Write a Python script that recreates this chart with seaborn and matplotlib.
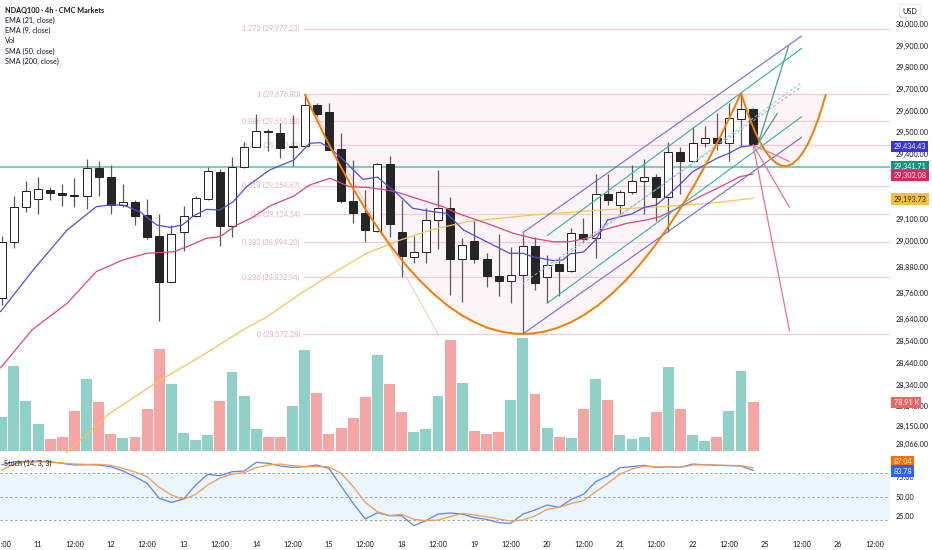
import numpy as np
import pandas as pd
import seaborn as sns
import matplotlib.pyplot as plt
from matplotlib.path import Path
from matplotlib.patches import PathPatch

# 4h candles, bar 0 = 10th 12:00 ... bar 62 = 22nd 20:00
opens = [28737, 28997, 29155, 29192, 29235, 29219, 29212, 29207, 29335, 29296,
         29166, 29181, 29120, 29025, 28813, 29040, 29117, 29194, 29319, 29069,
         29340, 29434, 29504, 29499, 29432, 29438, 29626, 29593, 29422, 29184,
         29131, 29048, 29355, 29040, 28928, 28948, 29097, 29154, 28916, 29000,
         28918, 28841, 28818, 28844, 28979, 28836, 28893, 28862, 29033, 29013,
         29217, 29166, 29227, 29278, 29294, 29201, 29409, 29370, 29453, 29473,
         29453, 29560, 29606]
highs = [29023, 29207, 29278, 29296, 29250, 29261, 29292, 29376, 29369, 29350,
         29261, 29189, 29192, 29123, 29074, 29161, 29207, 29342, 29330, 29388,
         29457, 29585, 29514, 29542, 29580, 29677, 29634, 29637, 29499, 29373,
         29235, 29359, 29393, 29189, 29025, 29154, 29327, 29204, 29016, 29097,
         28944, 29033, 28974, 29039, 29020, 28936, 28928, 29059, 29105, 29307,
         29309, 29235, 29350, 29378, 29309, 29457, 29434, 29524, 29531, 29591,
         29637, 29681, 29611]
lows = [28706, 28968, 29132, 29125, 29189, 29161, 29158, 29146, 29207, 29125,
        29158, 29074, 29008, 28634, 28810, 28956, 29112, 29189, 28977, 29020,
        29335, 29432, 29415, 29381, 29346, 29434, 29576, 29417, 29175, 29085,
        28997, 29042, 29020, 28836, 28900, 28900, 28962, 28752, 28721, 28900,
        28790, 28747, 28714, 28572, 28775, 28714, 28749, 28858, 28990, 28921,
        29166, 29123, 29217, 29123, 29092, 29040, 29217, 29369, 29432, 29419,
        29370, 29434, 29442]
closes = [28997, 29155, 29230, 29238, 29220, 29214, 29208, 29335, 29294, 29166,
          29178, 29115, 29020, 28813, 29033, 29117, 29197, 29323, 29069, 29342,
          29432, 29505, 29500, 29430, 29436, 29626, 29585, 29419, 29184, 29128,
          29051, 29355, 29077, 28931, 28951, 29097, 29151, 28916, 28982, 28918,
          28841, 28818, 28844, 28979, 28806, 28890, 28862, 29036, 29010, 29215,
          29189, 29227, 29278, 29294, 29204, 29411, 29370, 29453, 29473, 29453,
          29565, 29606, 29447]
volumes = [54.1, 137.2, 80.5, 43.3, 19.0, 21.7, 63.8, 115.7, 79.4, 27.5,
           21.1, 22.7, 68.0, 165.2, 108.1, 28.7, 17.8, 24.9, 80.5, 128.0,
           89.1, 35.6, 22.7, 21.7, 72.4, 163.1, 93.5, 27.5, 36.8, 52.5,
           87.0, 155.5, 108.1, 63.2, 30.8, 35.2, 88.6, 179.8, 109.2, 32.4,
           27.1, 30.8, 82.6, 182.1, 91.4, 36.3, 22.7, 20.1, 67.6, 116.2,
           82.1, 25.4, 19.0, 22.7, 63.2, 135.1, 67.6, 24.9, 15.2, 22.7,
           64.3, 129.6, 78.91]

# moving averages (bar position, price)
ema9_x = [-0.1, 2.6, 5.4, 7.8, 8.9, 10.0, 11.4, 12.8, 13.9, 14.9, 15.8, 16.9, 18.0,
          19.1, 20.2, 22.1, 24.1, 25.4, 26.3, 27.1, 28.2, 29.8, 31.0, 32.6, 33.9,
          35.6, 36.7, 38.1, 40.0, 41.9, 43.0, 43.8, 45.5, 46.3, 46.9, 48.0, 49.0,
          50, 51, 52, 53, 54, 55, 56, 57, 58, 59, 60, 61, 62]
ema9_y = [28675, 28867, 29051, 29158, 29166, 29166, 29135, 29074, 29063, 29074,
          29115, 29146, 29143, 29181, 29250, 29327, 29373, 29450, 29453, 29427,
          29373, 29284, 29294, 29220, 29151, 29135, 29128, 29051, 28997, 28944,
          28944, 28928, 28910, 28913, 28941, 28950, 29005, 29097, 29112, 29125,
          29155, 29166, 29212, 29263, 29319, 29350, 29381, 29404, 29434, 29440]
ema21_x = [-0.1, 2.5, 5.4, 7.8, 10.0, 12.0, 14.2, 15.3, 16.9, 18.0, 19.4, 20.8, 22.1,
           24.1, 25.4, 27.1, 28.7, 30.1, 31.8, 32.9, 35.1, 36.4, 37.6, 40.0, 42.2,
           43.8, 45.5, 46.9, 48.8, 49.6, 51.6, 53.2, 54.3, 56.0, 57.6, 59.3, 60.9, 62.0]
ema21_y = [28416, 28591, 28714, 28859, 28913, 28944, 28951, 28974, 29013, 29020,
           29074, 29112, 29161, 29207, 29258, 29289, 29250, 29247, 29235, 29220,
           29181, 29158, 29128, 29082, 29036, 29013, 28997, 28997, 29020, 29051,
           29082, 29097, 29112, 29158, 29204, 29250, 29296, 29309]
sma50_x = [4.8, 8.9, 13.1, 16.4, 19.9, 21.9, 24.6, 27.1, 30.1, 32.9, 35.6, 38.4,
           41.1, 43.8, 46.6, 49.4, 54.3, 58.4, 62.0]
sma50_y = [28000, 28207, 28361, 28468, 28591, 28652, 28756, 28844, 28944, 29005,
           29054, 29089, 29105, 29120, 29131, 29143, 29158, 29174, 29197]

# stochastic (14, 3, 3)
stoch_k = [91.1, 95.0, 95.4, 95.9, 95.0, 92.9, 90.7, 91.1, 90.7, 88.6,
           83.0, 75.7, 67.2, 47.9, 42.7, 47.0, 65.0, 78.7, 77.0, 82.1,
           83.0, 94.1, 92.9, 89.4, 87.7, 88.6, 90.7, 86.4, 63.7, 41.4,
           21.3, 29.4, 25.6, 25.6, 12.7, 19.2, 27.7, 29.0, 27.7, 23.0,
           20.9, 16.6, 15.7, 27.7, 32.9, 39.3, 36.3, 46.6, 53.0, 69.3,
           76.6, 87.3, 88.6, 90.3, 87.7, 88.6, 87.7, 92.0, 91.1, 90.3,
           89.9, 89.4, 83.8]
stoch_d = [84.3, 92.0, 94.6, 95.0, 94.1, 93.3, 92.0, 91.6, 91.6, 90.3,
           86.4, 81.7, 75.7, 62.0, 52.2, 46.6, 53.0, 65.0, 74.0, 79.1,
           80.9, 87.3, 90.7, 92.0, 89.9, 88.6, 88.6, 88.6, 80.0, 62.9,
           42.7, 30.7, 25.6, 27.3, 20.9, 19.2, 20.0, 24.3, 28.6, 26.4,
           24.3, 21.3, 18.7, 20.0, 25.2, 33.7, 36.3, 41.4, 44.9, 56.4,
           67.2, 79.1, 85.6, 89.4, 88.1, 88.6, 87.7, 90.7, 91.1, 90.7,
           90.3, 89.9, 87.0]

# fibonacci retracement
fib_ratios = [1.272, 1, 0.886, 0.786, 0.618, 0.5, 0.382, 0.236, 0]
fib_prices = [29977.23, 29676.80, 29550.88, 29440.43, 29254.67, 29124.54,
              28994.20, 28832.94, 28572.28]

# cup and handle arcs: start, bottom, end
cup_x = [25, 43, 61]
cup_y = [29676.8, 28572.28, 29681]
handle_x = [61, 64.6, 68.0]
handle_y = [29681, 29345, 29676]

# channel drawings
chan_x = [43, 66]
chan_upper = [29038.5, 29943.7]
chan_lower = [28572.3, 29477.5]
inner_x = [45, 66]
inner_upper = [29025, 29887]
inner_lower = [28714, 29572]
green_a_x, green_a_y = [62.4, 64.9], [29447, 29895]
green_b_x, green_b_y = [62.6, 64.0], [29465, 29588]
red_x = [62.0, 65.0]
red_ends = [28587, 29155, 29366]

hline_price = 29341.71

price_ticks = [30000, 29900, 29800, 29700, 29600, 29500, 29400, 29100, 29000,
               28880, 28760, 28640, 28540, 28440, 28340, 28240, 28150, 28066]
day_ticks = [0, 3, 6, 9, 12, 15, 18, 21, 24, 27, 30, 33, 36, 39, 42, 45, 48,
             51, 54, 57, 60, 63, 66, 69, 72]
day_labels = ['12:00', '11', '12:00', '12', '12:00', '13', '12:00', '14', '12:00',
              '15', '12:00', '18', '12:00', '19', '12:00', '20', '12:00', '21',
              '12:00', '22', '12:00', '25', '12:00', '26', '12:00']

bars = np.arange(len(opens))

sns.set_theme(style="white")
plt.rcParams['font.family'] = ['Lato', 'DejaVu Sans']
TXT = '#131722'
FS = 5.2

fig = plt.figure(figsize=(9.32, 5.5), dpi=100)
W = 890 / 932
ax_vol = fig.add_axes([0, 97 / 550, W, 453 / 550])
ax = fig.add_axes([0, 97 / 550, W, 453 / 550], sharex=ax_vol)
ax_st = fig.add_axes([0, 17 / 550, W, 79 / 550], sharex=ax_vol)
ax.patch.set_visible(False)
ax.set_zorder(ax_vol.get_zorder() + 1)

# volume
o = np.array(opens)
c = np.array(closes)
up = c >= o
vol_df = pd.DataFrame({'bar': bars, 'vol': volumes, 'dir': np.where(up, 'up', 'down')})
sns.barplot(data=vol_df, x='bar', y='vol', hue='dir',
            palette={'up': '#8fd1c7', 'down': '#f4a5a4'}, native_scale=True,
            dodge=False, width=0.9, legend=False, errorbar=None, saturation=1,
            linewidth=0, ax=ax_vol)
ax_vol.set_ylim(-3.7, 730)
ax_vol.axis('off')

# fib levels
ax.hlines(fib_prices, 24.9, 74, colors='#f8c8d4', lw=0.9, zorder=1)
for r, p in zip(fib_ratios, fib_prices):
    ax.text(24.6, p, f"{r:g} ({p:,.2f})", ha='right', va='center', fontsize=FS,
            color='#f2a9bb', zorder=1)
ax.plot([cup_x[0], 36], [fib_prices[1], fib_prices[-1]], color='#f3bfae', lw=0.6, zorder=1)

ax.axhline(hline_price, color='#7ccdbf', lw=1.5, zorder=2)


def arc_path(xs, ys, close=False):
    cx = 2 * xs[1] - (xs[0] + xs[2]) / 2
    cy = 2 * ys[1] - (ys[0] + ys[2]) / 2
    verts = [(xs[0], ys[0]), (cx, cy), (xs[2], ys[2])]
    codes = [Path.MOVETO, Path.CURVE3, Path.CURVE3]
    if close:
        verts.append((xs[0], ys[0]))
        codes.append(Path.CLOSEPOLY)
    return Path(verts, codes)


for xs, ys in [(cup_x, cup_y), (handle_x, handle_y)]:
    ax.add_patch(PathPatch(arc_path(xs, ys, True), facecolor='#f8bbd0', alpha=0.15,
                           edgecolor='none', zorder=0.5))

# candles
body_lo = np.minimum(o, c)
body_h = np.maximum(np.abs(c - o), 5)
ax.vlines(bars, lows, highs, color='#5a5a5a', lw=0.9, zorder=3)
ax.bar(bars, body_h, bottom=body_lo, width=0.66, color=np.where(up, 'white', '#262626'),
       edgecolor='#222222', linewidth=0.7, zorder=4)

# moving averages
sns.lineplot(x=sma50_x, y=sma50_y, color='#f6c453', linewidth=0.9, sort=False, ax=ax, zorder=5)
sns.lineplot(x=ema21_x, y=ema21_y, color='#e2447a', linewidth=0.9, sort=False, ax=ax, zorder=5)
sns.lineplot(x=ema9_x, y=ema9_y, color='#4c4cec', linewidth=0.9, sort=False, ax=ax, zorder=5)

# drawings
for xs, ys in [(cup_x, cup_y), (handle_x, handle_y)]:
    ax.add_patch(PathPatch(arc_path(xs, ys), facecolor='none', edgecolor='#f57c00',
                           lw=1.4, zorder=6))
ax.plot(chan_x, chan_upper, color='#6a6af0', lw=0.8, zorder=5)
ax.plot(chan_x, chan_lower, color='#6a6af0', lw=0.8, zorder=5)
ax.plot(inner_x, inner_upper, color='#2bb5a2', lw=0.8, zorder=5)
ax.plot(inner_x, inner_lower, color='#2bb5a2', lw=0.8, zorder=5)
ax.plot(chan_x, [(a + b) / 2 for a, b in zip(chan_upper, chan_lower)], color='#8fb6e6',
        lw=0.7, ls=(0, (3, 2)), zorder=5)
ax.plot(inner_x, [(a + b) / 2 for a, b in zip(inner_upper, inner_lower)], color='#8fc9d8',
        lw=0.7, ls=(0, (3, 2)), zorder=5)
ax.plot(green_a_x, green_a_y, color='#35a98c', lw=0.9, zorder=6)
ax.plot(green_b_x, green_b_y, color='#35a98c', lw=0.9, zorder=6)
for end in red_ends:
    ax.plot(red_x, [29442, end], color='#ef6f8e', lw=0.9, zorder=6)

ax.set_ylim(28024.7, 30109.4)
ax.set_xlabel('')
ax.set_ylabel('')
ax.yaxis.tick_right()
ax.set_yticks(price_ticks)
ax.set_yticklabels([f"{t:,.2f}" for t in price_ticks])
ax.tick_params(axis='y', length=0, pad=4.3, labelsize=FS, colors=TXT)
ax.tick_params(axis='x', bottom=False, labelbottom=False)


def tag(axis, y, text, bg, fg='white'):
    axis.annotate(text, xy=(1, y), xycoords=('axes fraction', 'data'), xytext=(2.6, 0),
                  textcoords='offset points', ha='left', va='center', fontsize=FS,
                  color=fg, annotation_clip=False, zorder=20,
                  bbox=dict(boxstyle='square,pad=0.3', fc=bg, ec='none'))


tag(ax, 29434.43, '29,434.43', '#3535e0')
tag(ax, 29341.71, '29,341.71', '#11957f')
tag(ax, 29302.08, '29,302.08', '#e0245e')
tag(ax, 29193.73, '29,193.73', '#f8c13a', TXT)
tag(ax, 28240 + 18, '78.91 K', '#ec6464')

# stochastic pane
ax_st.axhspan(20, 80, color='#2196f3', alpha=0.09, lw=0)
for lvl in [80, 50, 20]:
    ax_st.axhline(lvl, color='#9aa0aa', lw=0.7, ls=(0, (2.5, 2.5)))
sns.lineplot(x=bars, y=stoch_k, color='#5b84f2', linewidth=0.9, ax=ax_st)
sns.lineplot(x=bars, y=stoch_d, color='#f39c50', linewidth=0.9, ax=ax_st)
ax_st.set_ylim(3.3, 104.9)
ax_st.set_xlabel('')
ax_st.set_ylabel('')
ax_st.yaxis.tick_right()
ax_st.set_yticks([25, 50, 75])
ax_st.set_yticklabels(['25.00', '50.00', '75.00'])
ax_st.tick_params(axis='y', length=0, pad=4.3, labelsize=FS, colors=TXT)
ax_st.set_xticks(day_ticks)
ax_st.set_xticklabels(day_labels)
ax_st.tick_params(axis='x', length=0, pad=5.5, labelsize=FS, colors=TXT)
ax_st.text(0.004, 0.88, 'Stoch (14, 3, 3)', transform=ax_st.transAxes, fontsize=FS,
           color=TXT, va='center')
tag(ax_st, 95.5, '87.04', '#ff6d00')
tag(ax_st, 83.0, '83.78', '#2962ff')

for a in [ax, ax_vol, ax_st]:
    for s in a.spines.values():
        s.set_visible(False)
ax_vol.set_xlim(-0.14, 73.29)

# header / legend
fig.text(5 / 932, 1 - 10 / 550, 'NDAQ100 · 4h · CMC Markets', fontsize=FS, color=TXT,
         fontweight='bold', va='center')
for i, name in enumerate(['EMA (21, close)', 'EMA (9, close)', 'Vol', 'SMA (50, close)',
                          'SMA (200, close)']):
    fig.text(5 / 932, 1 - (20.3 + 10.25 * i) / 550, name, fontsize=FS, color=TXT, va='center')
fig.text(910 / 932, 1 - 11 / 550, 'USD', fontsize=FS, color=TXT, ha='center', va='center',
         bbox=dict(boxstyle='round,pad=0.45', fc='white', ec='#e0e3eb', lw=0.6))

fig.savefig('out.png', dpi=100)
